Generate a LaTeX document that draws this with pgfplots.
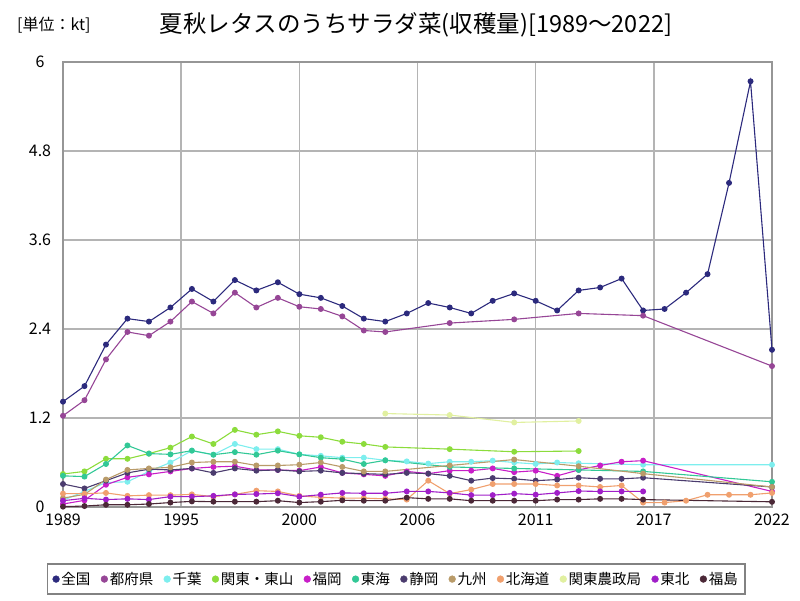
\documentclass[border=0pt]{standalone}
\usepackage{fontspec}
\setmainfont{Noto Sans CJK JP}
\usepackage{pgfplots}
\pgfplotsset{compat=1.18}
\definecolor{cZenkoku}{RGB}{44,42,125}
\definecolor{cTodofuken}{RGB}{150,70,150}
\definecolor{cChiba}{RGB}{125,238,238}
\definecolor{cKanto}{RGB}{140,220,60}
\definecolor{cFukuoka}{RGB}{200,30,200}
\definecolor{cTokai}{RGB}{50,200,150}
\definecolor{cShizuoka}{RGB}{75,60,110}
\definecolor{cKyushu}{RGB}{185,155,105}
\definecolor{cHokkaido}{RGB}{240,160,110}
\definecolor{cNosei}{RGB}{225,240,160}
\definecolor{cTohoku}{RGB}{160,30,200}
\definecolor{cFukushima}{RGB}{75,40,55}
\definecolor{gridgray}{RGB}{180,180,180}
\definecolor{axisgray}{RGB}{150,150,150}
\definecolor{legendgray}{RGB}{130,130,130}
\begin{document}
\begin{tikzpicture}
\path[use as bounding box] (0,0) rectangle (800pt,600pt);
\node[font=\fontsize{16pt}{19pt}\selectfont, anchor=west, inner sep=0pt] at (17pt,575pt) {[単位：kt]};
\node[font=\fontsize{23.5pt}{27pt}\selectfont, inner sep=0pt] at (416pt,575pt) {夏秋レタスのうちサラダ菜(収穫量)[1989～2022]};
\begin{axis}[
  at={(63pt,93pt)}, anchor=south west,
  scale only axis, width=709pt, height=445pt,
  xmin=1989, xmax=2022, ymin=0, ymax=6,
  xtick={1989,1994.5,2000,2005.5,2011,2016.5,2022},
  xticklabels={1989,1995,2000,2006,2011,2017,2022},
  ytick={0,1.2,2.4,3.6,4.8,6},
  yticklabels={0,1.2,2.4,3.6,4.8,6},
  grid=major,
  major grid style={draw=gridgray, line width=1.5pt},
  axis line style={draw=axisgray, line width=1.5pt},
  major tick length=0pt,
  tick label style={font=\fontsize{16pt}{18pt}\selectfont},
  xticklabel style={yshift=-3pt},
  yticklabel style={anchor=center, xshift=-23pt},
  /pgf/number format/assume math mode=true,
  every axis plot/.append style={line width=1.1pt, mark=*, mark size=2.4pt},
  legend image code/.code={\draw[mark size=3.4pt, line width=0.4pt] plot[only marks, mark=*] coordinates {(0pt,0pt)};},
  legend columns=12,
  legend style={at={(0.47,-0.162)}, anchor=center, draw=legendgray, line width=1.5pt,
    font=\fontsize{14.5pt}{17pt}\selectfont, inner xsep=5pt, inner ysep=6pt,
    /tikz/every even column/.append style={column sep=8.5pt}},
]
\addplot[color=cZenkoku] table {
1989 1.42
1990 1.63
1991 2.19
1992 2.54
1993 2.50
1994 2.69
1995 2.94
1996 2.77
1997 3.06
1998 2.92
1999 3.03
2000 2.87
2001 2.82
2002 2.71
2003 2.54
2004 2.50
2005 2.61
2006 2.75
2007 2.69
2008 2.61
2009 2.78
2010 2.88
2011 2.78
2012 2.65
2013 2.92
2014 2.96
2015 3.08
2016 2.65
2017 2.67
2018 2.89
2019 3.14
2020 4.37
2021 5.74
2022 2.12
};
\addlegendentry{全国}
\addplot[color=cTodofuken] table {
1989 1.23
1990 1.44
1991 1.99
1992 2.36
1993 2.31
1994 2.50
1995 2.77
1996 2.61
1997 2.89
1998 2.69
1999 2.82
2000 2.70
2001 2.67
2002 2.57
2003 2.38
2004 2.36
2007 2.48
2010 2.53
2013 2.61
2016 2.58
2022 1.90
};
\addlegendentry{都府県}
\addplot[color=cChiba] table {
1989 0.09
1990 0.21
1991 0.33
1992 0.34
1993 0.48
1994 0.60
1995 0.76
1996 0.705
1997 0.85
1998 0.78
1999 0.78
2000 0.71
2001 0.69
2002 0.665
2003 0.665
2004 0.63
2005 0.615
2006 0.585
2007 0.61
2008 0.61
2009 0.625
2010 0.60
2011 0.58
2012 0.60
2013 0.59
2016 0.57
2022 0.57
};
\addlegendentry{千葉}
\addplot[color=cKanto] table {
1989 0.445
1990 0.48
1991 0.65
1992 0.65
1993 0.72
1994 0.80
1995 0.95
1996 0.85
1997 1.04
1998 0.975
1999 1.02
2000 0.96
2001 0.94
2002 0.88
2003 0.85
2004 0.81
2007 0.78
2010 0.745
2013 0.755
};
\addlegendentry{関東・東山}
\addplot[color=cFukuoka] table {
1989 0.04
1990 0.09
1991 0.30
1992 0.40
1993 0.44
1994 0.48
1995 0.52
1996 0.54
1997 0.55
1998 0.50
1999 0.50
2000 0.49
2001 0.54
2002 0.46
2003 0.44
2004 0.42
2005 0.48
2006 0.45
2007 0.49
2008 0.49
2009 0.52
2010 0.47
2011 0.49
2012 0.42
2013 0.50
2014 0.56
2015 0.61
2016 0.625
2022 0.21
};
\addlegendentry{福岡}
\addplot[color=cTokai] table {
1989 0.42
1990 0.41
1991 0.58
1992 0.83
1993 0.72
1994 0.71
1995 0.76
1996 0.705
1997 0.74
1998 0.705
1999 0.76
2000 0.71
2001 0.665
2002 0.645
2003 0.58
2004 0.63
2007 0.54
2010 0.52
2013 0.50
2016 0.48
2022 0.34
};
\addlegendentry{東海}
\addplot[color=cShizuoka] table {
1989 0.31
1990 0.25
1991 0.355
1992 0.46
1993 0.51
1994 0.50
1995 0.52
1996 0.46
1997 0.52
1998 0.49
1999 0.50
2000 0.48
2001 0.49
2002 0.46
2003 0.45
2004 0.44
2005 0.46
2006 0.45
2007 0.42
2008 0.355
2009 0.39
2010 0.38
2011 0.355
2012 0.37
2013 0.395
2014 0.38
2015 0.38
2016 0.395
2022 0.27
};
\addlegendentry{静岡}
\addplot[color=cKyushu] table {
1989 0.12
1990 0.17
1991 0.37
1992 0.50
1993 0.52
1994 0.535
1995 0.60
1996 0.61
1997 0.61
1998 0.56
1999 0.56
2000 0.57
2001 0.60
2002 0.54
2003 0.48
2004 0.48
2007 0.56
2010 0.64
2013 0.55
2016 0.45
2022 0.27
};
\addlegendentry{九州}
\addplot[color=cHokkaido] table {
1989 0.18
1990 0.18
1991 0.19
1992 0.15
1993 0.16
1994 0.16
1995 0.17
1996 0.14
1997 0.17
1998 0.22
1999 0.21
2000 0.15
2001 0.13
2002 0.12
2003 0.12
2004 0.11
2005 0.10
2006 0.355
2007 0.18
2008 0.235
2009 0.31
2010 0.31
2011 0.31
2012 0.29
2013 0.29
2014 0.27
2015 0.29
2016 0.06
2017 0.06
2018 0.085
2019 0.165
2020 0.165
2021 0.165
2022 0.19
};
\addlegendentry{北海道}
\addplot[color=cNosei] table {
2004 1.26
2007 1.24
2010 1.14
2013 1.16
};
\addlegendentry{関東農政局}
\addplot[color=cTohoku] table {
1989 0.085
1990 0.117
1991 0.10
1992 0.11
1993 0.10
1994 0.14
1995 0.14
1996 0.15
1997 0.17
1998 0.175
1999 0.185
2000 0.14
2001 0.166
2002 0.19
2003 0.185
2004 0.185
2005 0.21
2006 0.21
2007 0.19
2008 0.16
2009 0.16
2010 0.18
2011 0.166
2012 0.19
2013 0.215
2014 0.21
2015 0.21
2016 0.21
};
\addlegendentry{東北}
\addplot[color=cFukushima] table {
1989 0.005
1990 0.013
1991 0.03
1992 0.03
1993 0.04
1994 0.06
1995 0.076
1996 0.072
1997 0.072
1998 0.072
1999 0.085
2000 0.06
2001 0.072
2002 0.09
2003 0.085
2004 0.085
2005 0.126
2006 0.11
2007 0.11
2008 0.085
2009 0.085
2010 0.085
2011 0.085
2012 0.10
2013 0.10
2014 0.11
2015 0.11
2016 0.10
2022 0.07
};
\addlegendentry{福島}
\end{axis}
\end{tikzpicture}
\end{document}
